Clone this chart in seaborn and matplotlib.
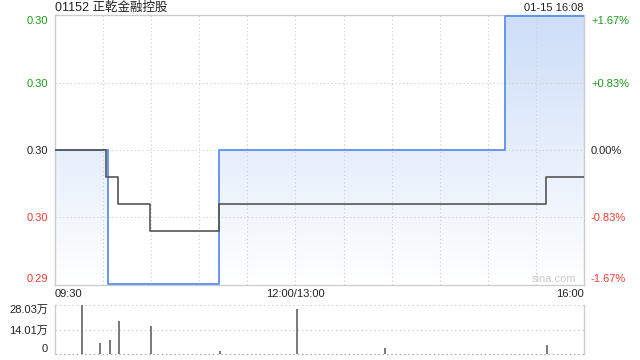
import numpy as np
import pandas as pd
import matplotlib
matplotlib.use("Agg")
import matplotlib.pyplot as plt
import seaborn as sns
from matplotlib.colors import LinearSegmentedColormap

sns.set_theme(style="white")
plt.rcParams['font.family'] = ['Liberation Sans', 'Noto Sans CJK SC', 'DejaVu Sans']

# ---------------- data ----------------
title = "01152 正乾金融控股"
stamp = "01-15 16:08"
prev_close = 0.300

price_times = ["09:30", "10:03", "11:12", "15:11", "16:00"]
price_vals = [0.300, 0.295, 0.300, 0.305, 0.305]

avg_times = ["09:30", "10:02", "10:09", "10:29", "11:12", "15:36", "16:00"]
avg_vals = [0.300, 0.299, 0.298, 0.297, 0.298, 0.299, 0.299]

vol_times = ["09:47", "09:58", "10:04", "10:10", "10:30", "11:13", "13:01", "13:56", "15:37"]
vol_vals = [28.03, 6.3, 8.0, 18.9, 16.0, 1.7, 25.7, 3.4, 5.1]  # 万

y_ticks = [0.295, 0.2975, 0.300, 0.3025, 0.305]
y_labels = ["0.29", "0.30", "0.30", "0.30", "0.30"]
pct_labels = ["-1.67%", "-0.83%", "0.00%", "+0.83%", "+1.67%"]
x_tick_labels = ["09:30", "12:00/13:00", "16:00"]
vol_ticks = [0, 14.01, 28.03]
vol_labels = ["0", "14.01万", "28.03万"]


def to_min(t):
    h, m = map(int, t.split(":"))
    v = h * 60 + m
    if v <= 720:
        return v - 570
    return v - 780 + 150


price_df = pd.DataFrame({"t": [to_min(t) for t in price_times], "p": price_vals})
avg_df = pd.DataFrame({"t": [to_min(t) for t in avg_times], "p": avg_vals})
vol_df = pd.DataFrame({"t": [to_min(t) for t in vol_times], "v": vol_vals})

GREEN = "#1a9a1a"
RED = "#f03c32"
GRID = "#cccccc"
DOT = "#d2d2d2"
BLUE = "#5b8ff0"
DOTSTYLE = (0, (1.2, 2.2))

fig = plt.figure(figsize=(6.4, 3.6), dpi=100)
L, R = 55 / 640, 584 / 640
ax = fig.add_axes([L, 1 - 285 / 360, R - L, 270 / 360])
axv = fig.add_axes([L, 1 - 354 / 360, R - L, 49 / 360])

ymin, ymax = 0.295, 0.305
ax.set_xlim(0, 330)
ax.set_ylim(ymin - 0.00003, ymax + 0.00003)

# gradient fill under price line
tt = price_df["t"].values
pp = price_df["p"].values
poly = ax.fill_between(tt, pp, ymin - 0.00003, step="post", color="none", lw=0)
grad = np.linspace(0, 1, 256).reshape(-1, 1)
cmap = LinearSegmentedColormap.from_list("g", ["#ffffff", "#cddef8"])
im = ax.imshow(grad, cmap=cmap, aspect="auto", origin="lower",
               extent=[0, 330, ymin, ymax], zorder=1)
path = poly.get_paths()[0]
im.set_clip_path(path, transform=ax.transData)

# grid
for x in range(30, 330, 30):
    ax.axvline(x, color=DOT, lw=0.8, ls=DOTSTYLE, zorder=1.5)
for y in [0.2975, 0.300, 0.3025]:
    ax.axhline(y, color=DOT, lw=0.8, ls=DOTSTYLE, zorder=1.5)

sns.lineplot(data=price_df, x="t", y="p", drawstyle="steps-post", color=BLUE,
             lw=1.3, ax=ax, zorder=3)
sns.lineplot(data=avg_df, x="t", y="p", drawstyle="steps-post", color="#555555",
             lw=1.2, ax=ax, zorder=4)

for s in ax.spines.values():
    s.set_color(GRID)
    s.set_linewidth(1)

ax.set_xlabel("")
ax.set_ylabel("")
ax.set_xticks([0, 150, 330])
ax.set_xticklabels(x_tick_labels, fontsize=8, color="#222222")
ax.tick_params(axis="x", length=0, pad=3)
xl = ax.get_xticklabels()
xl[0].set_ha("left")
xl[2].set_ha("right")

ax.set_yticks(y_ticks)
ax.set_yticklabels(y_labels, fontsize=8)
ax.tick_params(axis="y", length=0, pad=5)
ycols = [RED, RED, "#222222", GREEN, GREEN]
for lab, c in zip(ax.get_yticklabels(), ycols):
    lab.set_color(c)
yl = ax.get_yticklabels()
yl[0].set_va("bottom")
yl[-1].set_va("top")

ax2 = ax.twinx()
ax2.set_ylim(ax.get_ylim())
ax2.set_yticks(y_ticks)
ax2.set_yticklabels(pct_labels, fontsize=8)
ax2.tick_params(axis="y", length=0, pad=5)
for lab, c in zip(ax2.get_yticklabels(), ycols):
    lab.set_color(c)
yr = ax2.get_yticklabels()
yr[0].set_va("bottom")
yr[-1].set_va("top")
for s in ax2.spines.values():
    s.set_visible(False)
ax2.grid(False)

ax.text(0.985, 0.005, "sina.com", transform=ax.transAxes, ha="right", va="bottom",
        fontsize=8, color="#cccccc", zorder=5)

fig.text(L, 1 - 8 / 360, title, ha="left", va="center", fontsize=9, color="#222222")
fig.text(R, 1 - 8 / 360, stamp, ha="right", va="center", fontsize=8, color="#222222")

# volume
axv.set_xlim(0, 330)
axv.set_ylim(0, 28.03)
axv.vlines(vol_df["t"], 0, vol_df["v"], color="#555555", lw=1.1, zorder=3)
for y in [14.01, 28.03]:
    axv.axhline(y, color=DOT, lw=0.9, ls=DOTSTYLE, zorder=0.5, clip_on=False)
axv.axhline(0, color="#aaaaaa", lw=0.9, ls=DOTSTYLE, zorder=0.5, clip_on=False)
for k in ["top", "bottom"]:
    axv.spines[k].set_visible(False)
for k in ["left", "right"]:
    axv.spines[k].set_color(GRID)
    axv.spines[k].set_linewidth(1)
axv.set_xticks([])
axv.set_yticks(vol_ticks)
axv.set_yticklabels(vol_labels, fontsize=8, color="#222222")
axv.tick_params(axis="y", length=0, pad=5)
vl = axv.get_yticklabels()
vl[0].set_va("bottom")
vl[-1].set_va("top")
axv.grid(False)

fig.savefig("out.png", dpi=100)
